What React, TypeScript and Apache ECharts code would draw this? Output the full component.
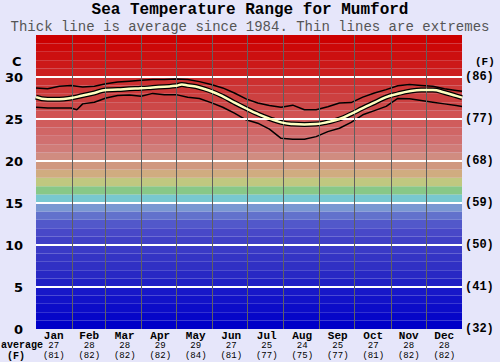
import React, { useEffect, useRef } from "react";
import * as echarts from "echarts";

const months = ["Jan", "Feb", "Mar", "Apr", "May", "Jun", "Jul", "Aug", "Sep", "Oct", "Nov", "Dec"];
const monthAvgC = ["27", "28", "28", "29", "29", "27", "25", "24", "25", "27", "28", "28"];
const monthAvgF = ["(81)", "(82)", "(82)", "(82)", "(84)", "(81)", "(77)", "(75)", "(77)", "(81)", "(82)", "(82)"];
const monthStarts = [31, 59, 90, 120, 151, 181, 212, 243, 273, 304, 334];

const avgDays = [0, 10, 20, 30, 40, 50, 60, 70, 80, 90, 100, 110, 120, 125, 130, 140, 150, 160, 170, 180, 190, 200, 210, 220, 230, 240, 250, 260, 270, 280, 290, 300, 310, 320, 330, 340, 350, 360, 365];
const avgVals = [27.6, 27.35, 27.35, 27.5, 27.8, 28.1, 28.45, 28.5, 28.6, 28.65, 28.75, 28.85, 28.95, 29.1, 29.0, 28.75, 28.3, 27.7, 26.95, 26.25, 25.6, 25.05, 24.6, 24.4, 24.35, 24.4, 24.65, 25.0, 25.6, 26.3, 26.95, 27.6, 28.0, 28.3, 28.45, 28.45, 28.15, 27.75, 27.55];

const maxDays = [0, 10, 20, 30, 40, 50, 60, 70, 80, 90, 100, 110, 120, 130, 140, 150, 160, 170, 180, 190, 200, 210, 220, 230, 240, 250, 260, 270, 280, 290, 300, 310, 320, 330, 340, 350, 360, 365];
const maxVals = [28.7, 28.6, 28.9, 29.0, 28.8, 28.9, 29.2, 29.4, 29.5, 29.6, 29.7, 29.7, 29.75, 29.7, 29.45, 29.1, 28.7, 28.1, 27.4, 26.9, 26.6, 26.4, 26.65, 26.1, 26.1, 26.45, 26.9, 26.95, 27.6, 28.1, 28.5, 28.95, 29.1, 29.0, 28.9, 28.6, 28.4, 28.3];

const minDays = [0, 10, 20, 30, 35, 40, 50, 60, 70, 80, 90, 100, 110, 120, 130, 140, 150, 160, 170, 180, 190, 200, 210, 220, 230, 240, 250, 260, 270, 280, 290, 300, 310, 320, 330, 340, 350, 360, 365];
const minVals = [26.4, 26.3, 26.3, 26.3, 26.1, 26.8, 27.0, 27.5, 27.8, 27.85, 27.7, 28.05, 27.9, 27.9, 27.6, 27.45, 26.95, 26.4, 25.7, 24.9, 24.5, 23.8, 22.7, 22.6, 22.6, 22.9, 23.5, 23.9, 24.6, 25.5, 26.0, 26.5, 27.45, 27.4, 27.2, 27.0, 26.8, 26.6, 26.5];

const bandColors = [
  "#0000c8", "#0606c8", "#0c0cc8", "#1212c8", "#1818c8",
  "#2020c4", "#2828c4", "#3030c4", "#3434c4", "#3a3ac6",
  "#4040c6", "#4848c8", "#5258ca", "#6272cc", "#7a98d2",
  "#78c8d0", "#88c888", "#c0c880", "#d0ac80", "#d09880",
  "#d08c80", "#d07c78", "#d07070", "#d06666", "#d05c5c",
  "#d05252", "#cc4848", "#cc4040", "#cc3838", "#cc3030",
  "#cc2020", "#cc1818", "#cc1010", "#cc0808", "#cc0000",
];

const mono = "'Liberation Mono', 'Courier New', monospace";

export default function App() {
  const ref = useRef<HTMLDivElement>(null);
  useEffect(() => {
    document.body.style.margin = "0";
    const chart = echarts.init(ref.current!, null, { renderer: "svg" });
    const pair = (d: number[], v: number[]) => d.map((x, i) => [x, v[i]]);
    chart.setOption({
      animation: false,
      backgroundColor: "#e6e6fa",
      title: [
        { text: "Sea Temperature Range for Mumford", left: "center", top: -3, textStyle: { fontFamily: mono, fontSize: 16, fontWeight: "bold", color: "#000" } },
        { text: "Thick line is average since 1984. Thin lines are extremes", left: "center", top: 15, textStyle: { fontFamily: mono, fontSize: 14, fontWeight: "normal", color: "#555" } },
      ],
      graphic: [
        { type: "text", left: 12, top: 55, style: { text: "C", font: "bold 13px 'DejaVu Sans'", fill: "#000" } },
        { type: "text", left: 475, top: 56, style: { text: "(F)", font: `bold 11px ${mono}`, fill: "#000" } },
        { type: "text", left: 1, top: 340, style: { text: "average", font: `bold 10px ${mono}`, fill: "#000" } },
        { type: "text", left: 7, top: 351, style: { text: "(F)", font: `bold 10px ${mono}`, fill: "#000" } },
      ],
      grid: { left: 36, right: 38, top: 35, bottom: 33 },
      xAxis: [
        { type: "value", min: 0, max: 365, show: false },
        {
          type: "category", data: months, position: "bottom", boundaryGap: true,
          axisLine: { show: false }, axisTick: { show: false }, splitLine: { show: false },
          axisLabel: {
            margin: 1, interval: 0,
            formatter: (v: string, i: number) => `{m|${v}}\n{v|${monthAvgC[i]}}\n{v|${monthAvgF[i]}}`,
            rich: {
              m: { fontFamily: mono, fontSize: 11, fontWeight: "bold", color: "#000", lineHeight: 11 },
              v: { fontFamily: mono, fontSize: 9, color: "#000", lineHeight: 10 },
            },
          },
        },
      ],
      yAxis: [
        {
          type: "value", min: 0, max: 35, interval: 5, position: "left",
          axisLine: { show: false }, axisTick: { show: false }, splitLine: { show: false },
          axisLabel: { margin: 13, fontFamily: "'DejaVu Sans'", fontWeight: "bold", fontSize: 13, color: "#000", formatter: (v: number) => (v === 35 ? "" : String(v)) },
        },
        {
          type: "value", min: 0, max: 35, interval: 5, position: "right",
          axisLine: { show: false }, axisTick: { show: false }, splitLine: { show: false },
          axisLabel: { margin: 3, fontFamily: mono, fontWeight: "bold", fontSize: 12, color: "#000", formatter: (v: number) => (v === 35 ? "" : `(${Math.round(v * 1.8 + 32)})`) },
        },
      ],
      series: [
        {
          type: "line", xAxisIndex: 0, yAxisIndex: 0, data: [], z: 1, silent: true,
          markArea: {
            silent: true,
            data: bandColors.map((c, i) => [{ yAxis: i, itemStyle: { color: c } }, { yAxis: i + 1 }]),
          },
        },
        {
          type: "line", xAxisIndex: 0, yAxisIndex: 0, data: [], z: 2, silent: true,
          markLine: {
            silent: true, symbol: "none", label: { show: false },
            data: [
              ...[5, 10, 15, 20, 25, 30].map((y) => ({ yAxis: y, lineStyle: { color: "#ffffff", width: 2, type: "solid" } })),
              ...monthStarts.map((x) => ({ xAxis: x, lineStyle: { color: "#606060", width: 1, type: "solid" } })),
            ],
          },
        },
        { type: "line", xAxisIndex: 0, yAxisIndex: 0, data: pair(maxDays, maxVals), symbol: "none", z: 3, lineStyle: { color: "#000", width: 1.5 } },
        { type: "line", xAxisIndex: 0, yAxisIndex: 0, data: pair(minDays, minVals), symbol: "none", z: 3, lineStyle: { color: "#000", width: 1.5 } },
        { type: "line", xAxisIndex: 0, yAxisIndex: 0, data: pair(avgDays, avgVals), symbol: "none", smooth: true, z: 4, lineStyle: { color: "#000", width: 5 } },
        { type: "line", xAxisIndex: 0, yAxisIndex: 0, data: pair(avgDays, avgVals), symbol: "none", smooth: true, z: 5, lineStyle: { color: "#ffffc0", width: 2.5 } },
      ],
    });
    return () => chart.dispose();
  }, []);
  return <div ref={ref} style={{ width: 500, height: 362 }} />;
}
